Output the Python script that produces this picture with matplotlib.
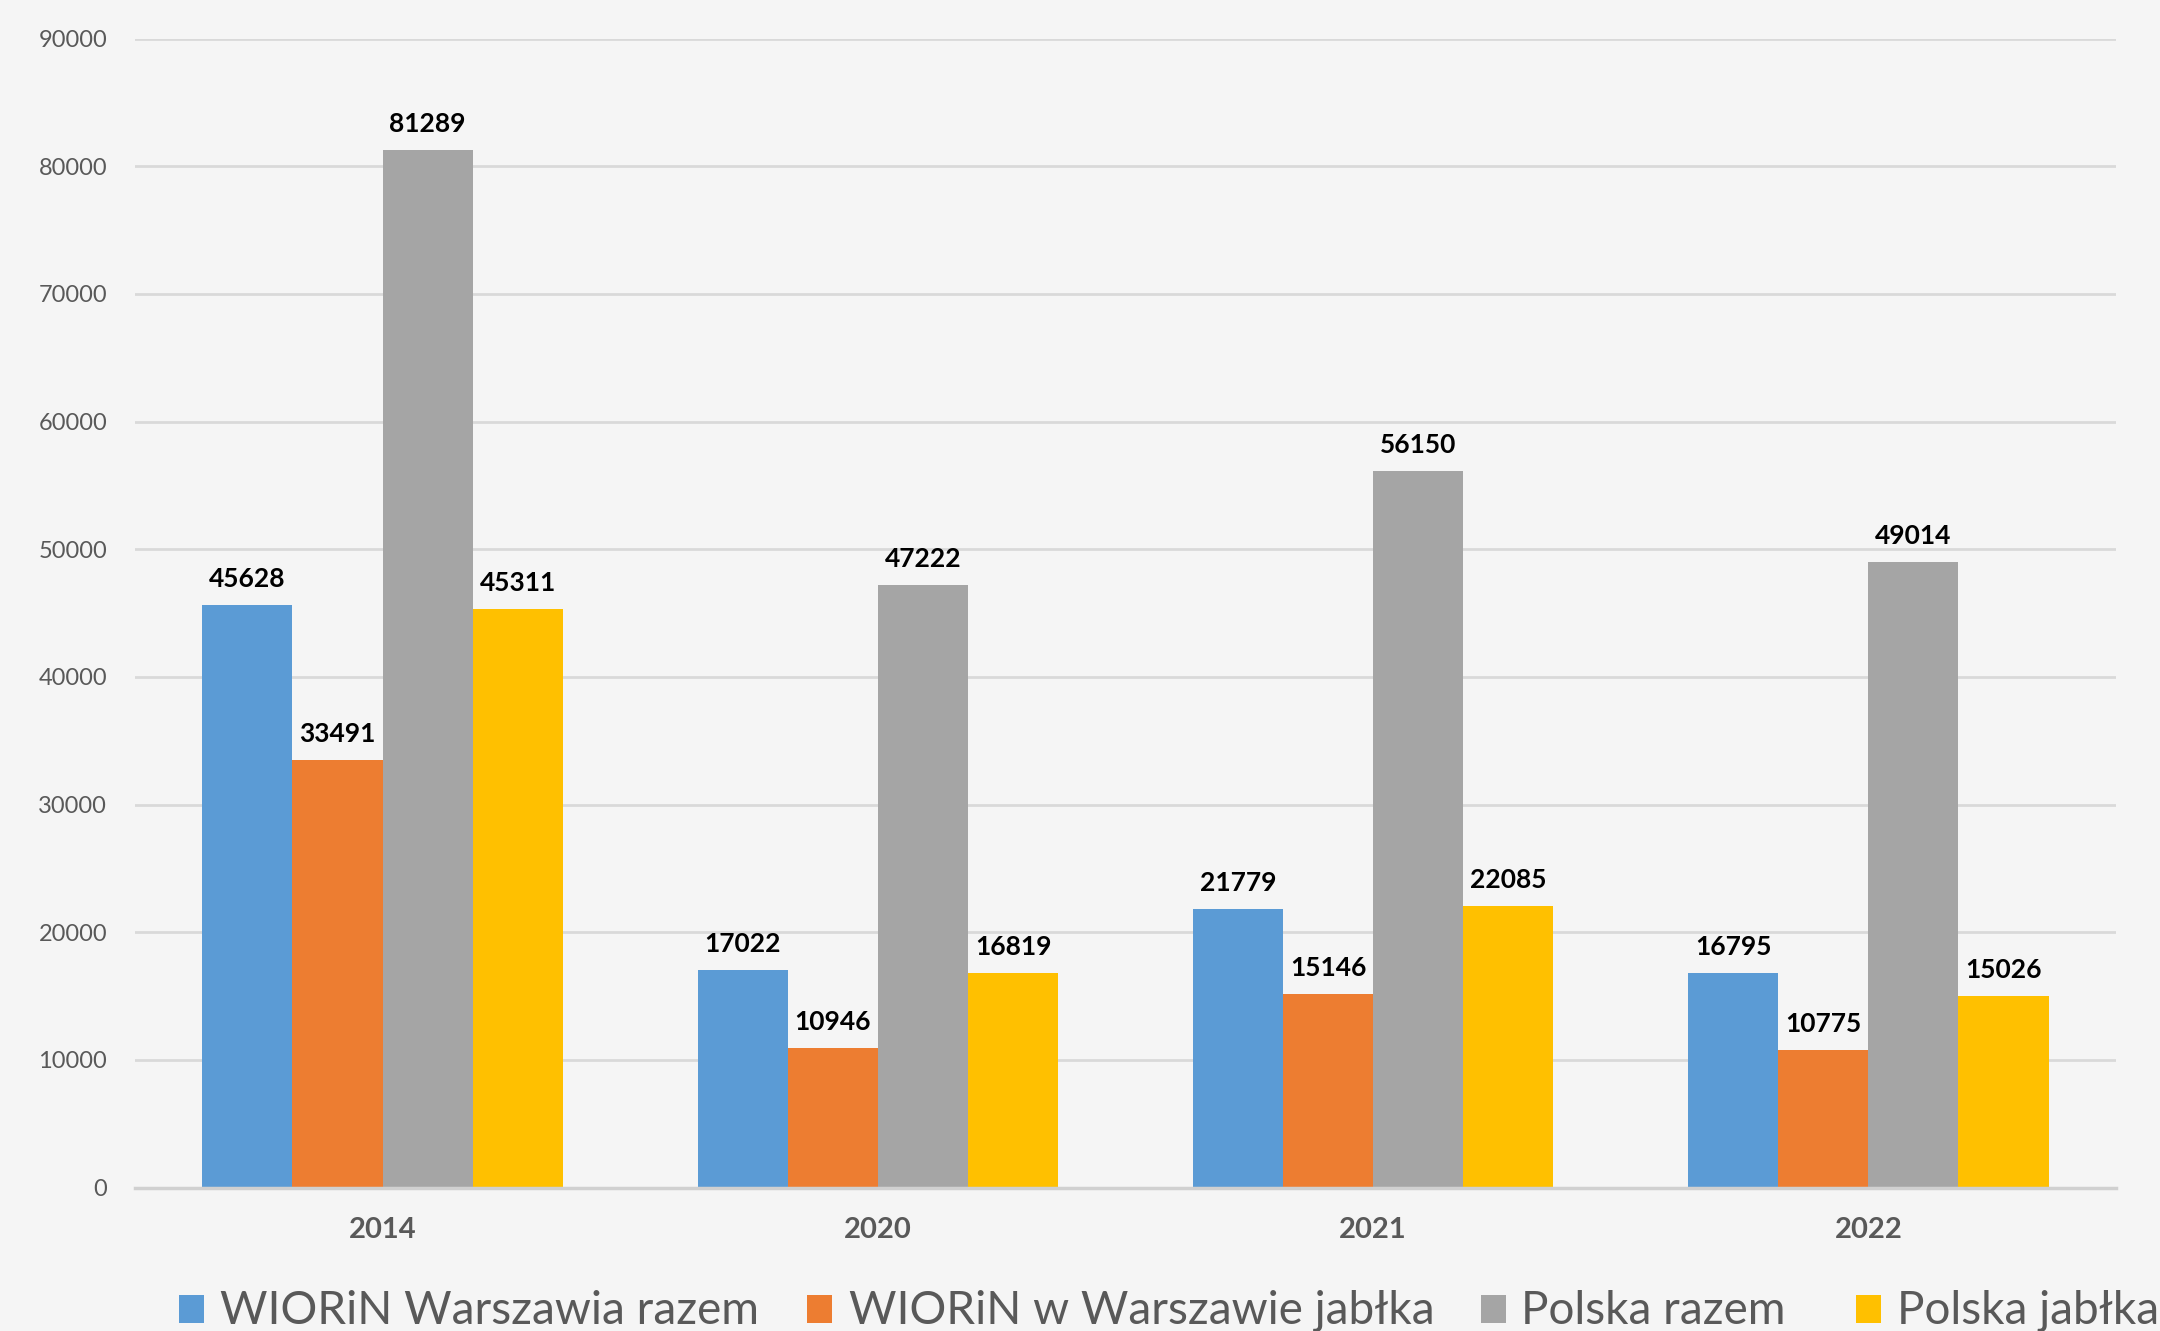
import matplotlib
matplotlib.use("Agg")
import matplotlib.pyplot as plt
import numpy as np
from matplotlib.patches import Rectangle

years = ["2014", "2020", "2021", "2022"]
series_names = ["WIORiN Warszawia razem", "WIORiN w Warszawie jabłka", "Polska razem", "Polska jabłka"]
wiorin_razem = [45628, 17022, 21779, 16795]
wiorin_jablka = [33491, 10946, 15146, 10775]
polska_razem = [81289, 47222, 56150, 49014]
polska_jablka = [45311, 16819, 22085, 15026]
colors = ["#5B9BD5", "#ED7D31", "#A5A5A5", "#FFC000"]
yticks = [0, 10000, 20000, 30000, 40000, 50000, 60000, 70000, 80000, 90000]

plt.rcParams['font.family'] = ['Lato', 'DejaVu Sans']
bg = "#f5f5f5"
fig = plt.figure(figsize=(21.6, 13.31), dpi=100, facecolor=bg)
ax = fig.add_axes([0.0625, 0.1078, 0.9171, 0.8632])
ax.set_facecolor(bg)

data = [wiorin_razem, wiorin_jablka, polska_razem, polska_jablka]
x = np.arange(len(years))
w = 0.182
for i, (vals, c) in enumerate(zip(data, colors)):
    pos = x + (i - 1.5) * w
    bars = ax.bar(pos, vals, width=w, color=c, zorder=3)
    for b, v in zip(bars, vals):
        ax.annotate(str(v), (b.get_x() + b.get_width() / 2, v), xytext=(0, 13),
                    textcoords="offset points", ha="center", va="baseline",
                    fontsize=19, fontweight="bold", color="black", zorder=4)

ax.set_xlim(-0.5, 3.5)
ax.set_ylim(0, 90000)
ax.set_yticks(yticks)
ax.set_yticklabels([str(t) for t in yticks], fontsize=17, color="#595959")
ax.set_xticks(x)
ax.set_xticklabels(years, fontsize=21, fontweight="bold", color="#595959")
ax.tick_params(axis="y", length=0, pad=20)
ax.tick_params(axis="x", length=0, pad=21)
ax.grid(axis="y", color="#d9d9d9", linewidth=2, zorder=0)
for s in ["top", "right", "left"]:
    ax.spines[s].set_visible(False)
ax.spines["bottom"].set_color("#d0d0d0")
ax.spines["bottom"].set_linewidth(2.5)
ax.spines["bottom"].set_zorder(3.5)

# legend (manual layout to reproduce the cropped bottom row)
leg_sq_x = [179, 807, 1481, 1856]
leg_tx_x = [220, 849, 1521, 1897]
leg_y = 1311
for sx, tx, c, name in zip(leg_sq_x, leg_tx_x, colors, series_names):
    fig.patches.append(Rectangle((sx / 2160, 1 - (leg_y + 12) / 1331), 25 / 2160, 28 / 1331,
                                 transform=fig.transFigure, facecolor=c, edgecolor="none"))
    fig.text(tx / 2160, 1 - leg_y / 1331, name, fontsize=33, color="#595959",
             ha="left", va="center")

fig.savefig("out.png", dpi=100, facecolor=bg)
